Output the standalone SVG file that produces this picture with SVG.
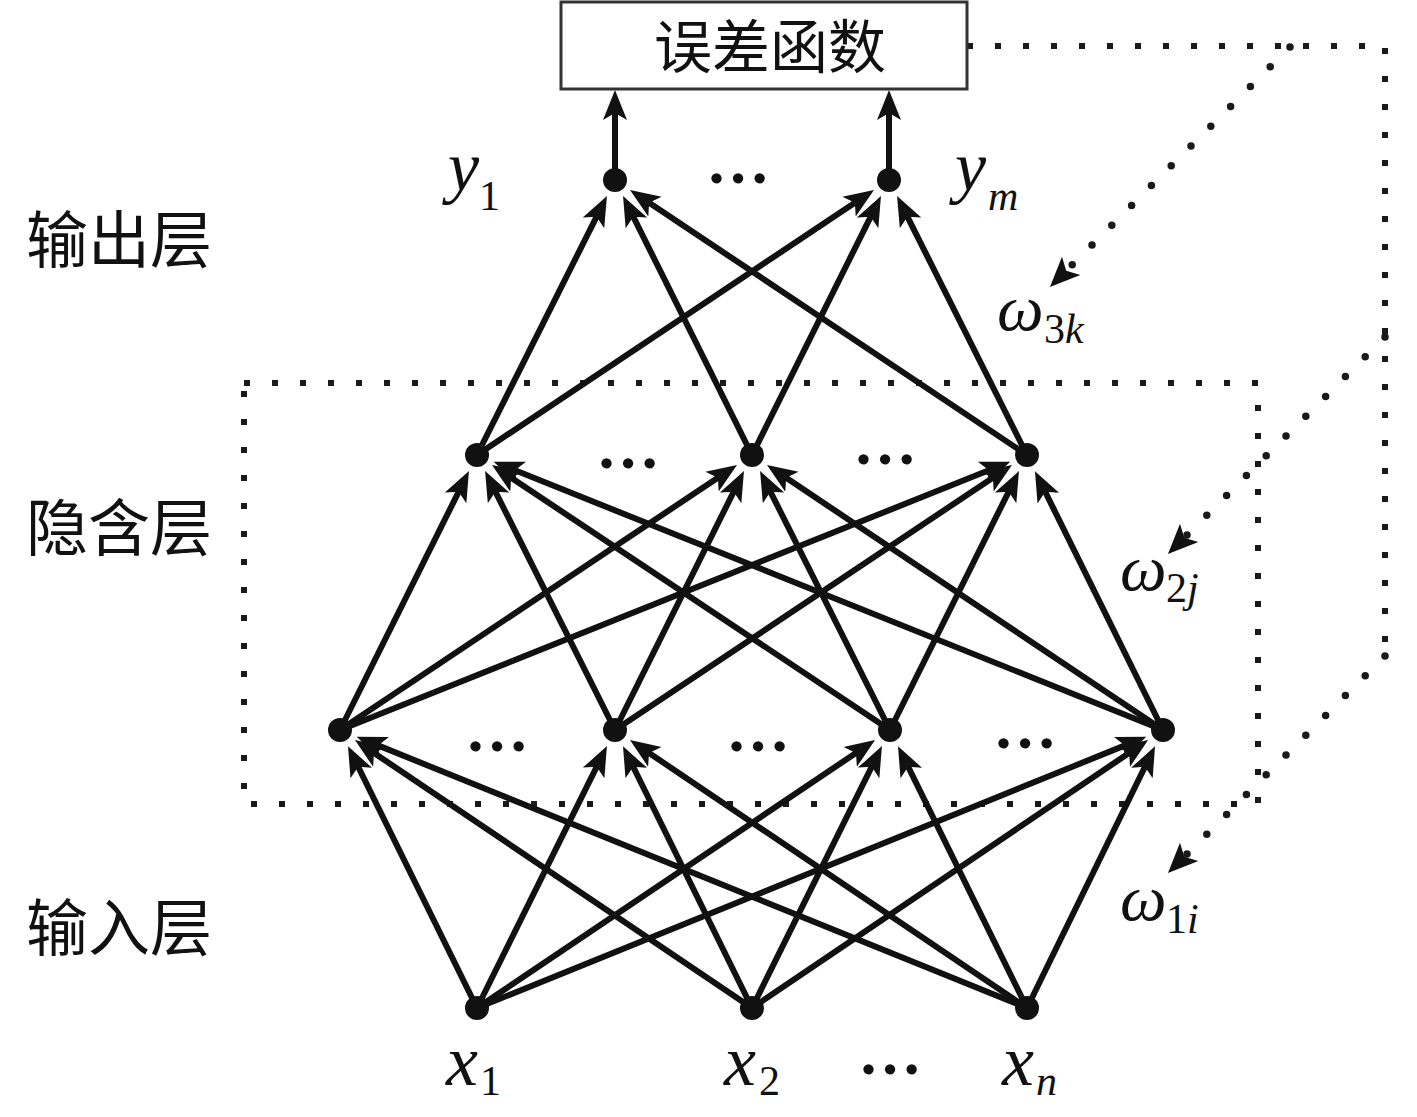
<svg xmlns="http://www.w3.org/2000/svg" width="1417" height="1117" viewBox="0 0 1417 1117">
<style>
.edge{stroke:#111;stroke-width:6;fill:none;marker-end:url(#ah)}
.node{fill:#111}
.sq{fill:none;stroke:#1a1a1a;stroke-width:6;stroke-dasharray:6 22}
.rd{fill:none;stroke:#1a1a1a;stroke-width:7.5;stroke-dasharray:0 28;stroke-linecap:round;marker-end:url(#ah2)}
.cjk{font-family:"Noto Sans CJK SC","Noto Sans CJK TC",sans-serif;fill:#111}
.m{font-family:"Liberation Serif","Times New Roman",serif;font-style:italic;fill:#111}
.up{font-style:normal}
.ell{font-family:"Liberation Serif","Times New Roman",serif;font-weight:bold;font-size:64px;fill:#111;text-anchor:middle}
</style>
<defs>
<marker id="ah" markerUnits="userSpaceOnUse" markerWidth="32" markerHeight="28" viewBox="0 -14 32 28" refX="11" refY="0" orient="auto">
<path d="M0,-12 L30,0 L0,12 L7,0 Z" fill="#111"/>
</marker>
<marker id="ah2" markerUnits="userSpaceOnUse" markerWidth="32" markerHeight="30" viewBox="0 -15 32 30" refX="11" refY="0" orient="auto">
<path d="M0,-13 L30,0 L0,13 L7,0 Z" fill="#111"/>
</marker>
</defs>
<rect width="1417" height="1117" fill="#fff"/>

<g id="hidden-box">
<rect class="sq" x="244" y="383" width="1014" height="421"/>
</g>

<g id="feedback">
<path class="sq" d="M967,46 H1385 V642"/>
<line class="rd" x1="1290" y1="47" x2="1063.4" y2="273.6"/>
<line class="rd" x1="1385" y1="337" x2="1181.4" y2="540.6"/>
<line class="rd" x1="1385" y1="656" x2="1181.4" y2="859.6"/>
</g>

<g id="connectors">
<!-- input to hidden1 -->
<line class="edge" x1="477" y1="1008" x2="356.4" y2="763.2"/>
<line class="edge" x1="477" y1="1008" x2="598.5" y2="763.1"/>
<line class="edge" x1="477" y1="1008" x2="859.3" y2="750.7"/>
<line class="edge" x1="477" y1="1008" x2="1128.7" y2="743.9"/>
<line class="edge" x1="752" y1="1008" x2="370.7" y2="750.7"/>
<line class="edge" x1="752" y1="1008" x2="631.4" y2="763.2"/>
<line class="edge" x1="752" y1="1008" x2="873.5" y2="763.1"/>
<line class="edge" x1="752" y1="1008" x2="1132.4" y2="750.7"/>
<line class="edge" x1="1027" y1="1008" x2="374.3" y2="743.9"/>
<line class="edge" x1="1027" y1="1008" x2="645.7" y2="750.7"/>
<line class="edge" x1="1027" y1="1008" x2="906.4" y2="763.2"/>
<line class="edge" x1="1027" y1="1008" x2="1146.7" y2="763.2"/>
<!-- hidden1 to hidden2 -->
<line class="edge" x1="340" y1="730" x2="460.5" y2="488.1"/>
<line class="edge" x1="340" y1="730" x2="721.2" y2="475.5"/>
<line class="edge" x1="340" y1="730" x2="992.6" y2="468.8"/>
<line class="edge" x1="615" y1="730" x2="493.6" y2="488.1"/>
<line class="edge" x1="615" y1="730" x2="735.5" y2="488.1"/>
<line class="edge" x1="615" y1="730" x2="996.2" y2="475.5"/>
<line class="edge" x1="890" y1="730" x2="507.8" y2="475.5"/>
<line class="edge" x1="890" y1="730" x2="768.6" y2="488.1"/>
<line class="edge" x1="890" y1="730" x2="1010.5" y2="488.1"/>
<line class="edge" x1="1163" y1="730" x2="511.3" y2="468.8"/>
<line class="edge" x1="1163" y1="730" x2="782.8" y2="475.6"/>
<line class="edge" x1="1163" y1="730" x2="1043.4" y2="488.2"/>
<!-- hidden2 to output -->
<line class="edge" x1="477" y1="455" x2="598.4" y2="213.1"/>
<line class="edge" x1="477" y1="455" x2="858.2" y2="200.5"/>
<line class="edge" x1="752" y1="455" x2="631.5" y2="213.1"/>
<line class="edge" x1="752" y1="455" x2="872.5" y2="213.1"/>
<line class="edge" x1="1027" y1="455" x2="645.8" y2="200.5"/>
<line class="edge" x1="1027" y1="455" x2="905.6" y2="213.1"/>
<!-- output to error function -->
<line class="edge" x1="615" y1="170" x2="615" y2="109"/>
<line class="edge" x1="889" y1="170" x2="889" y2="109"/>
</g>

<g id="error-function">
<rect x="561" y="2" width="406" height="87" fill="#fff" stroke="#333" stroke-width="3"/>
<text class="cjk" x="770" y="68" font-size="58" text-anchor="middle">误差函数</text>
</g>

<g id="output-nodes">
<circle class="node" cx="615" cy="180" r="12"/>
<circle class="node" cx="889" cy="180" r="12"/>
<text class="ell" x="738" y="183">…</text>
</g>
<g id="hidden2-nodes">
<circle class="node" cx="477" cy="455" r="12"/>
<circle class="node" cx="752" cy="455" r="12"/>
<circle class="node" cx="1027" cy="455" r="12"/>
<text class="ell" x="628" y="468">…</text>
<text class="ell" x="885" y="464">…</text>
</g>
<g id="hidden1-nodes">
<circle class="node" cx="340" cy="730" r="12"/>
<circle class="node" cx="615" cy="730" r="12"/>
<circle class="node" cx="890" cy="730" r="12"/>
<circle class="node" cx="1163" cy="730" r="12"/>
<text class="ell" x="497" y="751">…</text>
<text class="ell" x="758" y="751">…</text>
<text class="ell" x="1025" y="748">…</text>
</g>
<g id="input-nodes">
<circle class="node" cx="477" cy="1008" r="12"/>
<circle class="node" cx="752" cy="1008" r="12"/>
<circle class="node" cx="1027" cy="1008" r="12"/>
<text class="ell" x="890" y="1074">…</text>
</g>

<g id="layer-labels">
<text class="cjk" x="26" y="263" font-size="62">输出层</text>
<text class="cjk" x="26" y="551" font-size="62">隐含层</text>
<text class="cjk" x="26" y="951" font-size="62">输入层</text>
</g>

<g id="math-labels">
<text class="m" x="448" y="190" font-size="70">y</text><text class="m up" x="479" y="210" font-size="42">1</text>
<text class="m" x="955" y="190" font-size="70">y</text><text class="m" x="988" y="210" font-size="42">m</text>
<text class="m" x="997" y="330" font-size="66">ω</text><text x="1044" y="343" font-size="42"><tspan class="m up">3</tspan><tspan class="m">k</tspan></text>
<text class="m" x="1120" y="590" font-size="66">ω</text><text x="1166" y="602" font-size="42"><tspan class="m up">2</tspan><tspan class="m">j</tspan></text>
<text class="m" x="1120" y="920" font-size="66">ω</text><text x="1166" y="933" font-size="42"><tspan class="m up">1</tspan><tspan class="m">i</tspan></text>
<text class="m" x="446" y="1085" font-size="72">x</text><text class="m up" x="480" y="1095" font-size="42">1</text>
<text class="m" x="724" y="1085" font-size="72">x</text><text class="m up" x="759" y="1095" font-size="42">2</text>
<text class="m" x="1002" y="1085" font-size="72">x</text><text class="m" x="1036" y="1095" font-size="42">n</text>
</g>
</svg>
